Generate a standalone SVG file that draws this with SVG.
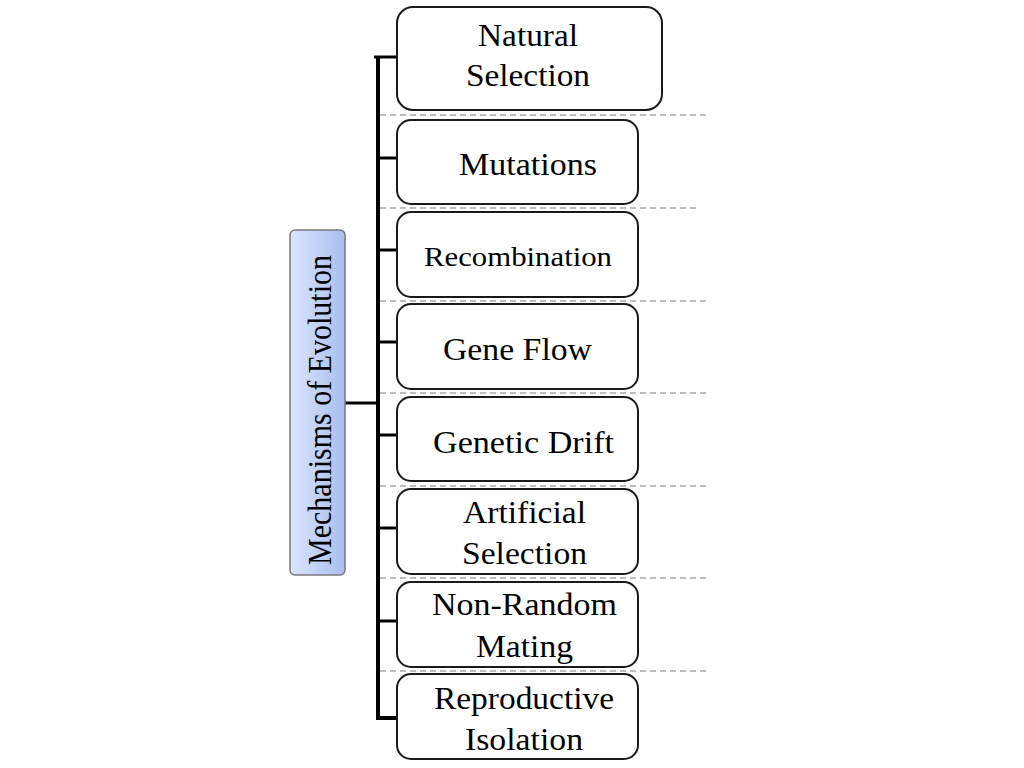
<svg xmlns="http://www.w3.org/2000/svg" width="1024" height="768" viewBox="0 0 1024 768">
<style>
.box{fill:#fff;stroke:#1a1a1a;stroke-width:2}
.t{font-family:"Liberation Serif","Times New Roman",serif;font-size:31px;fill:#000}
.dash{stroke:#7a7a7a;stroke-width:1;stroke-dasharray:6 4;fill:none}
.bus{stroke:#000;stroke-width:4;fill:none}
.stub{stroke:#000;stroke-width:3;fill:none}
</style>
<defs>
<linearGradient id="g" x1="0" y1="0" x2="1" y2="0">
<stop offset="0" stop-color="#dbe4fb"/>
<stop offset="1" stop-color="#a9bff0"/>
</linearGradient>
</defs>
<rect width="1024" height="768" fill="#fff"/>
<g id="dashes">
<line class="dash" x1="380" y1="115" x2="710" y2="115"/>
<line class="dash" x1="380" y1="208" x2="700" y2="208"/>
<line class="dash" x1="380" y1="301" x2="710" y2="301"/>
<line class="dash" x1="380" y1="393" x2="710" y2="393"/>
<line class="dash" x1="380" y1="486" x2="710" y2="486"/>
<line class="dash" x1="380" y1="578" x2="710" y2="578"/>
<line class="dash" x1="380" y1="671" x2="710" y2="671"/>
</g>
<g id="connectors">
<polyline class="bus" points="378,58 378,718 397,718"/>
<line class="stub" x1="374" y1="57" x2="397" y2="57"/>
<line class="stub" x1="378" y1="158" x2="397" y2="158"/>
<line class="stub" x1="378" y1="250" x2="397" y2="250"/>
<line class="stub" x1="378" y1="342" x2="397" y2="342"/>
<line class="stub" x1="378" y1="435" x2="397" y2="435"/>
<line class="stub" x1="378" y1="528" x2="397" y2="528"/>
<line class="stub" x1="378" y1="621" x2="397" y2="621"/>
<line class="stub" x1="345" y1="403" x2="378" y2="403"/>
</g>
<g id="root">
<rect x="290" y="230" width="55" height="345" rx="5" fill="url(#g)" stroke="#7a7a7a" stroke-width="1.5"/>
<text class="t" transform="translate(331,565) rotate(-90)" textLength="310" lengthAdjust="spacingAndGlyphs" style="font-size:34px">Mechanisms of Evolution</text>
</g>
<g id="n1">
<rect class="box" x="397" y="7" width="265" height="103" rx="16"/>
<text class="t" x="478" y="46" textLength="100" lengthAdjust="spacingAndGlyphs">Natural</text>
<text class="t" x="466" y="86" textLength="124" lengthAdjust="spacingAndGlyphs">Selection</text>
</g>
<g id="n2">
<rect class="box" x="397" y="120" width="241" height="84" rx="14"/>
<text class="t" x="459" y="175" textLength="138" lengthAdjust="spacingAndGlyphs">Mutations</text>
</g>
<g id="n3">
<rect class="box" x="397" y="212" width="241" height="85" rx="14"/>
<text class="t" x="424" y="266" textLength="188" lengthAdjust="spacingAndGlyphs" style="font-size:28px">Recombination</text>
</g>
<g id="n4">
<rect class="box" x="397" y="304" width="241" height="85" rx="14"/>
<text class="t" x="443" y="360" textLength="149" lengthAdjust="spacingAndGlyphs">Gene Flow</text>
</g>
<g id="n5">
<rect class="box" x="397" y="397" width="241" height="84" rx="14"/>
<text class="t" x="433" y="453" textLength="181" lengthAdjust="spacingAndGlyphs">Genetic Drift</text>
</g>
<g id="n6">
<rect class="box" x="397" y="489" width="241" height="85" rx="14"/>
<text class="t" x="463" y="523" textLength="123" lengthAdjust="spacingAndGlyphs">Artificial</text>
<text class="t" x="462" y="564" textLength="125" lengthAdjust="spacingAndGlyphs">Selection</text>
</g>
<g id="n7">
<rect class="box" x="397" y="582" width="241" height="85" rx="14"/>
<text class="t" x="432" y="615" textLength="185" lengthAdjust="spacingAndGlyphs">Non-Random</text>
<text class="t" x="476" y="657" textLength="97" lengthAdjust="spacingAndGlyphs">Mating</text>
</g>
<g id="n8">
<rect class="box" x="397" y="674" width="241" height="85" rx="14"/>
<text class="t" x="434" y="709" textLength="180" lengthAdjust="spacingAndGlyphs">Reproductive</text>
<text class="t" x="465" y="750" textLength="118" lengthAdjust="spacingAndGlyphs">Isolation</text>
</g>
</svg>
